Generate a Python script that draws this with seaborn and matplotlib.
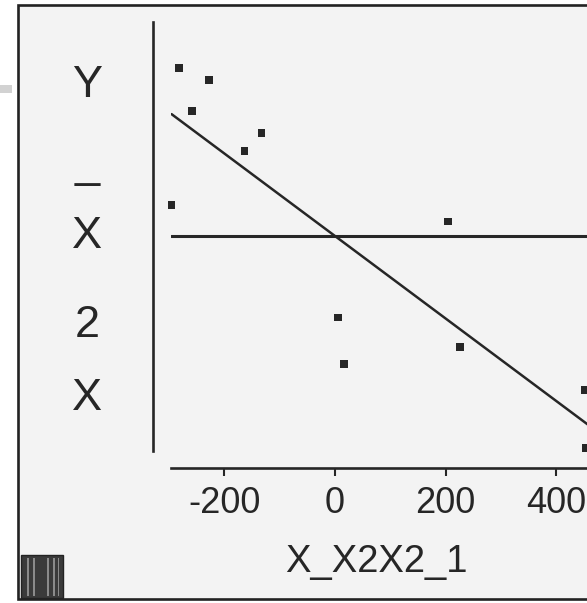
import numpy as np
import matplotlib
matplotlib.use("Agg")
import matplotlib.pyplot as plt
from matplotlib.patches import Rectangle
import seaborn as sns

# ---- data ----
x_resid = [-281.9, -227.6, -257.8, -132.4, -163.1, -295.0, 204.7, 6.0, 16.3, 225.8, 451.7, 452.6]
y_resid = [303.0, 281.8, 225.3, 185.5, 153.6, 56.0, 25.8, -146.9, -231.3, -200.0, -278.2, -383.0]
fit_slope = -0.745
fit_intercept = 0.0
ref_level = 0.0
x_ticks = [-200, 0, 200, 400]
x_tick_labels = ["-200", "0", "200", "400"]
x_label = "X_X2X2_1"
y_label = "Y_X2X"

sns.set_theme(style="white")
plt.rcParams["font.family"] = ["Liberation Sans", "DejaVu Sans"]

W, H = 587, 603
fig = plt.figure(figsize=(W / 100, H / 100), dpi=100)
fig.patch.set_facecolor("white")

def fx(px):
    return px / W

def fy(py):
    return (H - py) / H

ink = "#262626"

# scanned frame
frame = Rectangle((fx(18.5), fy(599)), fx(640) - fx(18.5), fy(4.5) - fy(599),
                  transform=fig.transFigure, facecolor="#f3f3f3", edgecolor="#222222",
                  lw=1.9, zorder=-5)
fig.patches.append(frame)
# grey scan artefact at top left
fig.patches.append(Rectangle((0, fy(93)), fx(12), fy(85) - fy(93), transform=fig.transFigure,
                             facecolor="#d2d2d2", edgecolor="none", zorder=-4))
# small icon block at bottom left
fig.patches.append(Rectangle((fx(21), fy(598)), fx(63) - fx(21), fy(555) - fy(598),
                             transform=fig.transFigure, facecolor="#3a3a3a", edgecolor="#222222",
                             lw=1, zorder=-3))
for sx in [27, 33, 47, 53, 58]:
    fig.patches.append(Rectangle((fx(sx), fy(596)), fx(1.5), fy(558) - fy(596),
                                 transform=fig.transFigure, facecolor="#8a8a8a",
                                 edgecolor="none", zorder=-2))

ax = fig.add_axes([fx(171), fy(451), (600.7 - 171) / W, (451 - 22) / H])
ax.set_facecolor("none")

sns.scatterplot(x=x_resid, y=y_resid, marker="s", s=30, color=ink, edgecolor="none",
                ax=ax, clip_on=False, zorder=3)

ax.set_xlim(-296, 480)
ax.set_ylim(-388, 386)

xs = np.array([min(x_resid), ax.get_xlim()[1]])
sns.lineplot(x=xs, y=fit_intercept + fit_slope * xs, color=ink, lw=1.8, ax=ax)
ax.axhline(ref_level, color=ink, lw=2.2)

sns.despine(ax=ax, offset={"left": 13, "bottom": 12.5})
for side in ["left", "bottom"]:
    ax.spines[side].set_color(ink)
    ax.spines[side].set_linewidth(1.9)

ax.set_yticks([])
ax.set_xticks(x_ticks, labels=x_tick_labels)
ax.tick_params(axis="x", direction="out", length=6, width=1.5, color=ink,
               labelsize=26, labelcolor=ink, pad=7, bottom=True)

ax.set_xlabel(x_label, fontsize=27.5, color=ink, va="baseline")
ax.xaxis.set_label_coords((376 - 171) / 429.7, (451 - 572) / 429)

# vertical stacked y label
baselines = [97, 177, 248, 337, 410]
for ch, b in zip(y_label, baselines):
    fig.text(fx(87), fy(b), ch, ha="center", va="baseline", fontsize=32.5, color=ink)

fig.savefig("out.png", dpi=100, facecolor=fig.get_facecolor())
